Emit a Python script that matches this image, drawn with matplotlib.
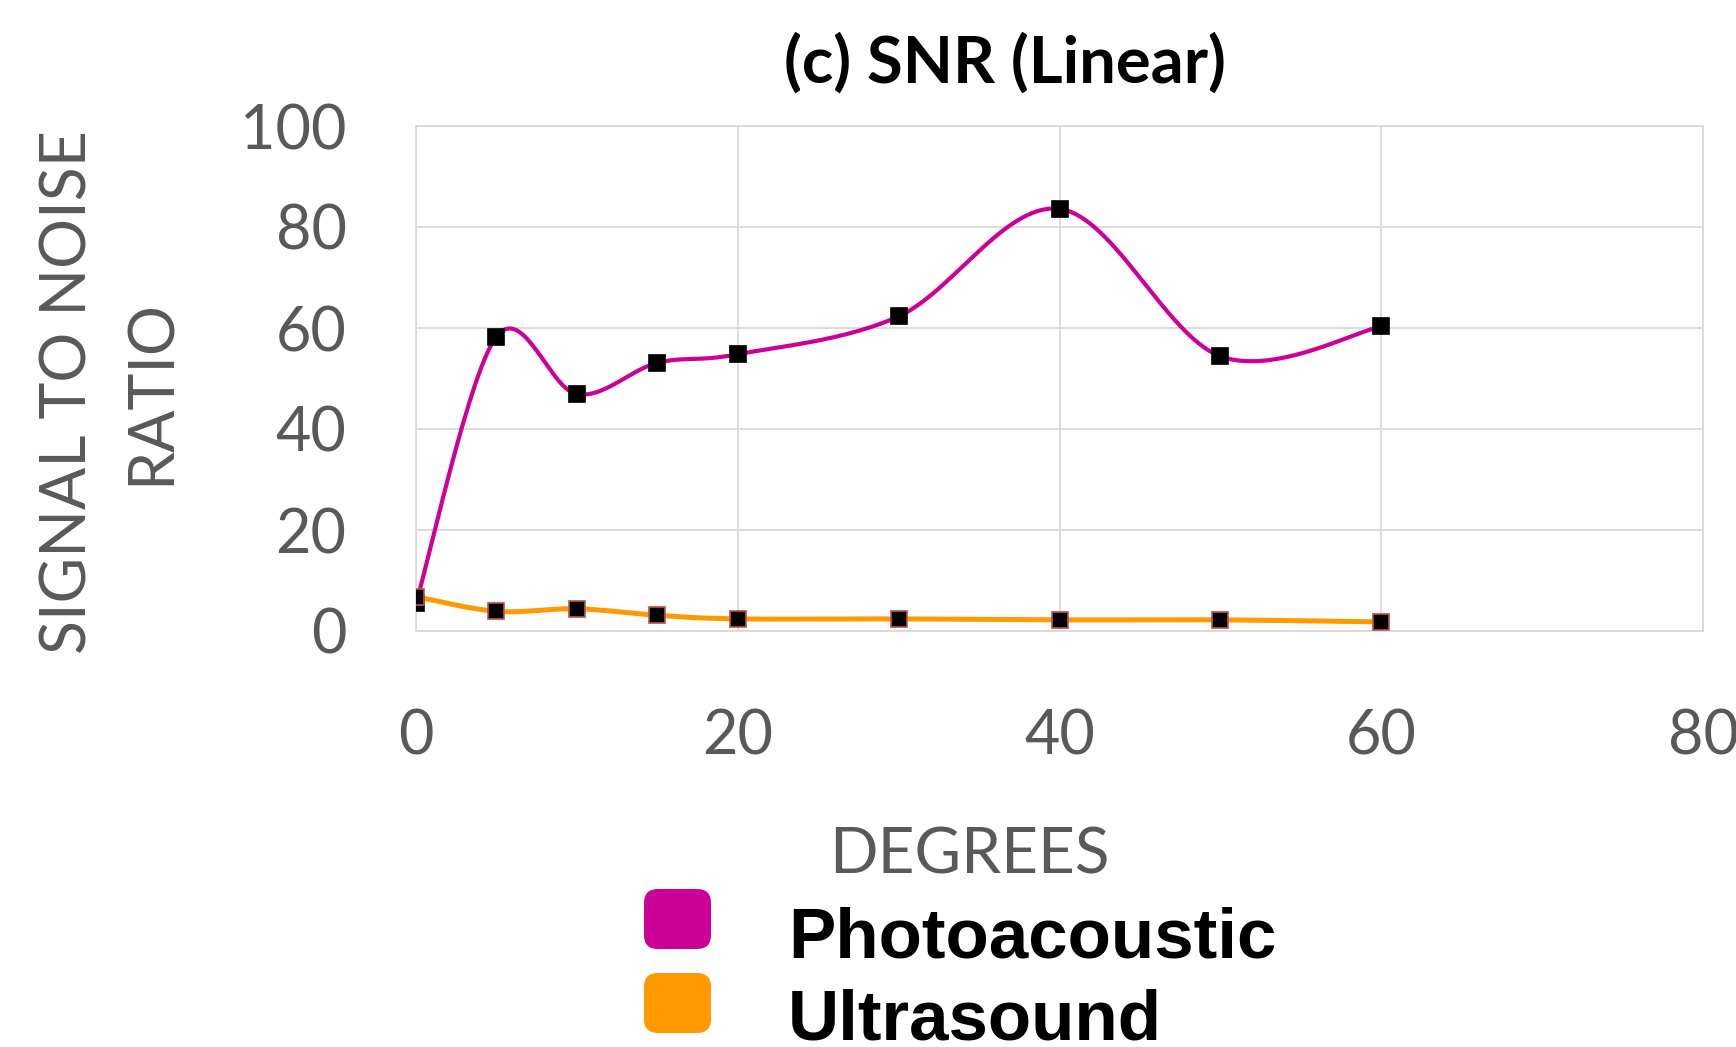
import numpy as np
import matplotlib.pyplot as plt
from matplotlib.patches import FancyBboxPatch

degrees = [0, 5, 10, 15, 20, 30, 40, 50, 60]
photoacoustic = [5.5, 58.3, 46.9, 53.1, 54.8, 62.3, 83.6, 54.4, 60.3]
ultrasound = [6.8, 3.9, 4.4, 3.1, 2.4, 2.4, 2.2, 2.2, 1.8]
series_names = ['Photoacoustic', 'Ultrasound']
series_colors = ['#CC0099', '#FF9900']
x_ticks = [0, 20, 40, 60, 80]
y_ticks = [0, 20, 40, 60, 80, 100]


def smooth(x, y, n=30):
    # Excel-like smoothed line (Catmull-Rom through the points)
    p = np.column_stack([x, y]).astype(float)
    p = np.vstack([p[0], p, p[-1]])
    out = []
    t = np.linspace(0, 1, n)[:, None]
    for i in range(1, len(p) - 2):
        p0, p1, p2, p3 = p[i - 1], p[i], p[i + 1], p[i + 2]
        c = 0.5 * ((2 * p1) + (-p0 + p2) * t + (2 * p0 - 5 * p1 + 4 * p2 - p3) * t ** 2
                   + (-p0 + 3 * p1 - 3 * p2 + p3) * t ** 3)
        out.append(c)
    out = np.vstack(out)
    return out[:, 0], out[:, 1]


plt.rcParams['font.family'] = ['Lato', 'DejaVu Sans']
fig = plt.figure(figsize=(17.36, 10.47), dpi=100)
ax = fig.add_axes([416 / 1736, 1 - 631 / 1047, (1703 - 416) / 1736, (631 - 126) / 1047])

gray = '#595959'
grid = '#d9d9d9'

lw = [3.0, 3.6]
edges = ['black', '#c0504d']
for vals, name, col, w, ec in zip([photoacoustic, ultrasound], series_names, series_colors, lw, edges):
    sx, sy = smooth(degrees, vals)
    ax.plot(sx, sy, color=col, lw=w, zorder=3, solid_capstyle='round')
    ax.plot(degrees, vals, ls='none', marker='s', ms=12, mfc='black', mec=ec, mew=1.2, zorder=4)

ax.set_xlim(0, 80)
ax.set_ylim(0, 100)
ax.set_xticks(x_ticks)
ax.set_yticks(y_ticks)
ax.grid(True, color=grid, lw=1.3)
ax.set_axisbelow(True)
for s in ax.spines.values():
    s.set_color(grid)
    s.set_linewidth(1.3)
ax.tick_params(length=0, labelsize=44, labelcolor=gray)
ax.tick_params(axis='x', pad=56)
ax.tick_params(axis='y', pad=50)

fig.text(1005 / 1736, 1 - 63 / 1047, '(c) SNR (Linear)', ha='center', va='center',
         fontsize=47, fontweight='bold', color='black')
fig.text(110 / 1736, 1 - 392 / 1047, 'SIGNAL TO NOISE\nRATIO', ha='center', va='center',
         rotation=90, fontsize=45, color=gray, linespacing=1.55)
fig.text(969 / 1736, 1 - 856 / 1047, 'DEGREES', ha='center', va='center', fontsize=46, color=gray)

# legend
box_y = [919, 1003]
text_y = [939, 1022]
for name, col, by, ty in zip(series_names, series_colors, box_y, text_y):
    box = FancyBboxPatch((644 / 1736, 1 - (by + 30) / 1047), 67 / 1736, 60 / 1047,
                         boxstyle='round,pad=0,rounding_size=0.008', transform=fig.transFigure,
                         fc=col, ec='none', mutation_aspect=1736 / 1047)
    fig.patches.append(box)
    fig.text(788 / 1736, 1 - ty / 1047, name, ha='left', va='center', fontsize=51,
             fontweight='bold', family=['Liberation Sans', 'DejaVu Sans'], color='black')

fig.savefig('out.png', dpi=100)
